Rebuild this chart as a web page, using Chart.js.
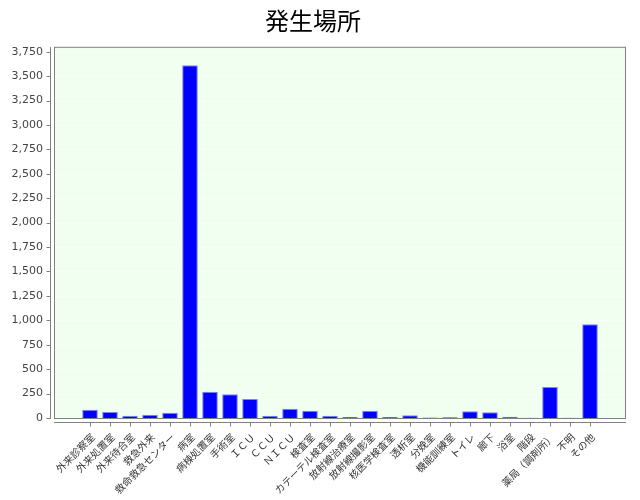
<!DOCTYPE html>
<html>
<head>
<meta charset="utf-8">
<script src="https://cdn.jsdelivr.net/npm/chart.js@4/dist/chart.umd.min.js"></script>
<style>
html,body{margin:0;padding:0;background:#fff;}
#wrap{width:640px;height:500px;}
</style>
</head>
<body>
<div id="wrap"><canvas id="c" width="640" height="500"></canvas></div>
<script>
const categories = ['外来診察室','外来処置室','外来待合室','救急外来','救命救急センター','病室','病棟処置室','手術室','ＩＣＵ','ＣＣＵ','ＮＩＣＵ','検査室','カテーテル検査室','放射線治療室','放射線撮影室','核医学検査室','透析室','分娩室','機能訓練室','トイレ','廊下','浴室','階段','薬局（調剤所）','不明','その他'];
const values = [85,62,24,34,54,3610,270,242,195,24,95,75,24,10,75,10,27,6,8,68,58,12,3,318,3,960];
const yTicks = [0,250,500,750,1000,1250,1500,1750,2000,2250,2500,2750,3000,3250,3500,3750];
const title = '発生場所';

const cjk = '"Noto Sans CJK JP", "DejaVu Sans", sans-serif';

const plotDeco = {
  id: 'plotDeco',
  beforeDatasetsDraw(chart) {
    const {ctx, chartArea: a, scales} = chart;
    ctx.save();
    ctx.fillStyle = '#F0FFF0';
    ctx.fillRect(a.left, a.top, a.right - a.left, a.bottom - a.top);
    ctx.strokeStyle = 'rgba(255,255,255,0.9)';
    ctx.lineWidth = 1;
    ctx.setLineDash([2, 2]);
    yTicks.forEach(v => {
      const y = Math.round(scales.y.getPixelForValue(v)) + 0.5;
      ctx.beginPath(); ctx.moveTo(a.left, y); ctx.lineTo(a.right, y); ctx.stroke();
    });
    ctx.restore();
  },
  afterDraw(chart) {
    const {ctx, chartArea: a, scales} = chart;
    ctx.save();
    ctx.strokeStyle = '#808080';
    ctx.lineWidth = 1;
    ctx.strokeRect(a.left + 0.5, a.top + 0.5, a.right - a.left - 1, a.bottom - a.top);
    const ax = a.left - 4 + 0.5;
    ctx.beginPath(); ctx.moveTo(ax, a.top); ctx.lineTo(ax, a.bottom + 1); ctx.stroke();
    yTicks.forEach(v => {
      const y = Math.round(scales.y.getPixelForValue(v)) + 0.5;
      ctx.beginPath(); ctx.moveTo(ax - 4, y); ctx.lineTo(ax, y); ctx.stroke();
    });
    const ay = a.bottom + 4 + 0.5;
    ctx.beginPath(); ctx.moveTo(a.left, ay); ctx.lineTo(a.right, ay); ctx.stroke();
    categories.forEach((c, i) => {
      const x = Math.round(scales.x.getPixelForValue(i)) + 0.5;
      ctx.beginPath(); ctx.moveTo(x, ay); ctx.lineTo(x, ay + 4); ctx.stroke();
    });
    ctx.restore();
  }
};

new Chart(document.getElementById('c'), {
  type: 'bar',
  data: {
    datasets: [{
      data: categories.map((c, i) => ({x: i, y: values[i]})),
      backgroundColor: '#0000FF',
      borderColor: '#8080FF',
      borderWidth: 1,
      borderSkipped: 'bottom',
      categoryPercentage: 1,
      barPercentage: 0.78
    }]
  },
  options: {
    responsive: false,
    animation: false,
    devicePixelRatio: 1,
    layout: {padding: {left: 0, right: 14, top: 0, bottom: 0}},
    plugins: {
      legend: {display: false},
      tooltip: {enabled: false},
      title: {
        display: true,
        text: title,
        color: '#000',
        font: {family: cjk, size: 24, weight: 'normal'},
        padding: {top: 6, bottom: 12}
      }
    },
    scales: {
      x: {
        type: 'linear',
        offset: false,
        min: -1.8,
        max: 26.8,
        grid: {display: false, offset: false},
        border: {display: false},
        afterBuildTicks(scale) { scale.ticks = categories.map((c, i) => ({value: i})); },
        afterFit(scale) { scale.height = 82; scale.paddingLeft = 0; scale.paddingRight = 0; },
        ticks: {
          autoSkip: false,
          maxRotation: 45,
          minRotation: 45,
          padding: 5,
          labelOffset: 3,
          color: '#333',
          font: {family: cjk, size: 10},
          callback: (v) => categories[v]
        }
      },
      y: {
        min: 0,
        max: 3800,
        grid: {display: false},
        border: {display: false},
        afterBuildTicks(scale) { scale.ticks = yTicks.map(v => ({value: v})); },
        afterFit(scale) { scale.width = 54; },
        ticks: {
          padding: 3,
          color: '#444',
          font: {family: '"DejaVu Sans", sans-serif', size: 11},
          callback: (v) => v.toLocaleString('en-US')
        }
      }
    }
  },
  plugins: [plotDeco]
});
</script>
</body>
</html>
